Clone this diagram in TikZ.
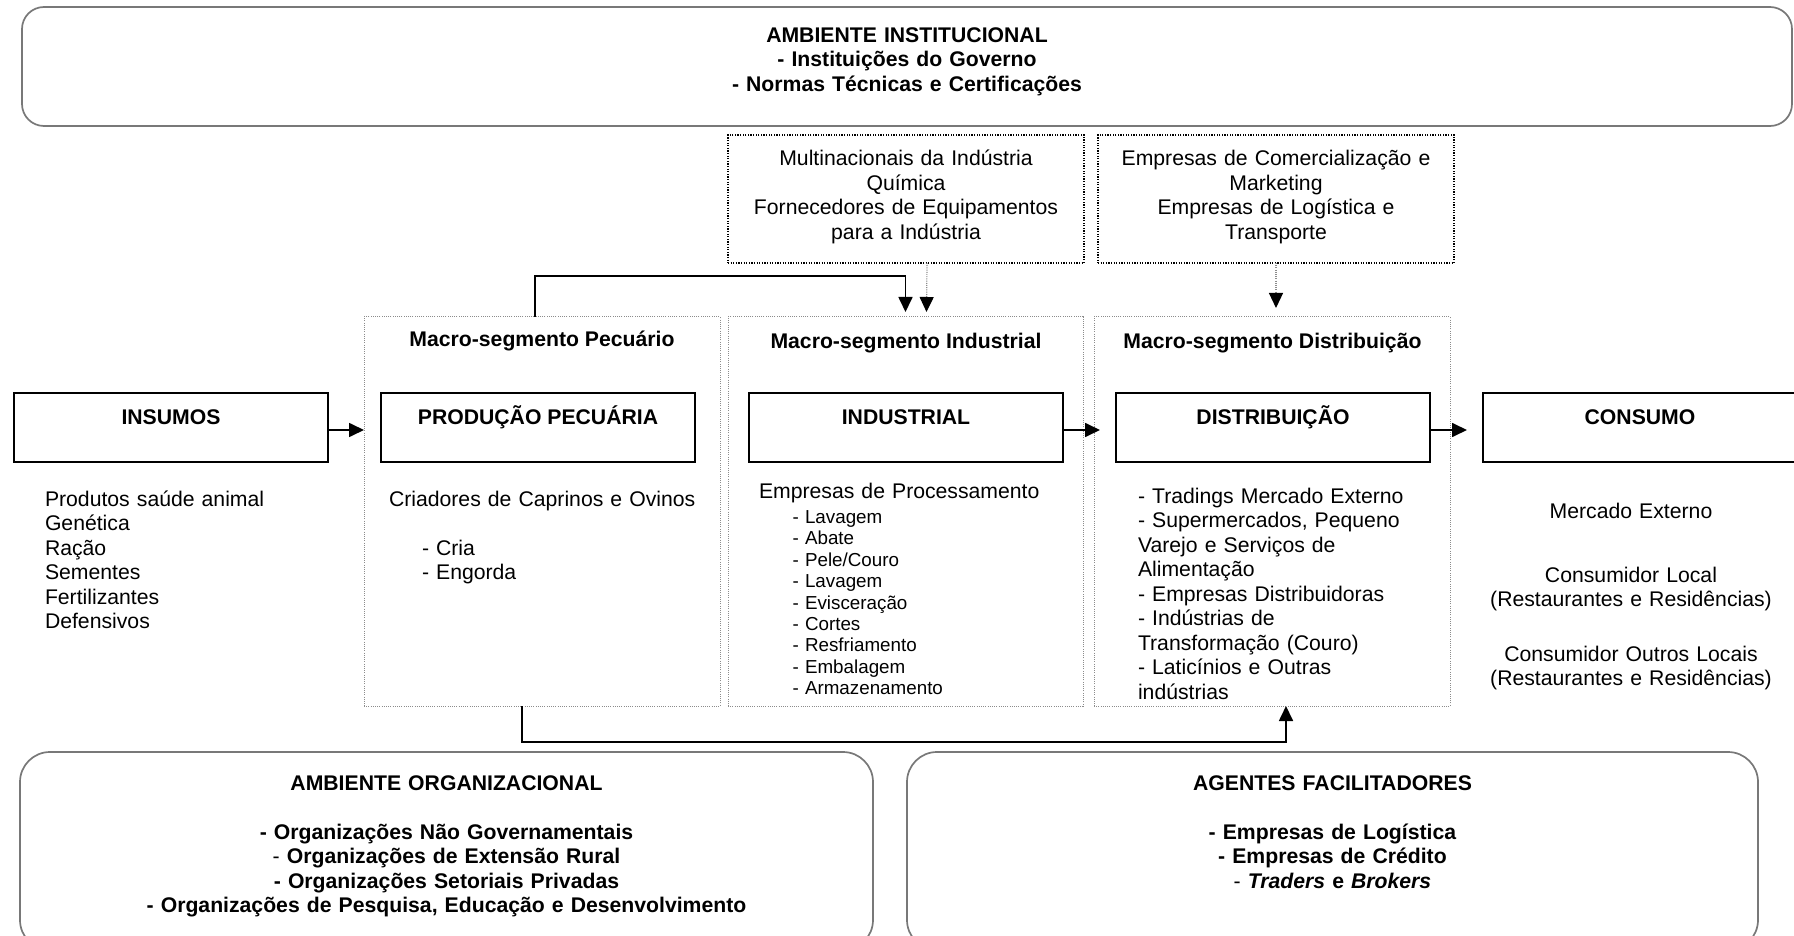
\documentclass[tikz,border=0pt]{standalone}
\usepackage{fontspec}
\setmainfont{Liberation Sans}
\usetikzlibrary{arrows.meta,calc}
\definecolor{envgray}{RGB}{120,120,120}
\definecolor{segdot}{RGB}{140,140,140}
\begin{document}
\begin{tikzpicture}[x=0.5pt,y=-0.5pt,
  every node/.style={inner sep=0pt,outer sep=0pt},
  body/.style={font=\fontsize{10.6}{12.25}\selectfont},
  small/.style={font=\fontsize{9.4}{10.7}\selectfont},
  head/.style={font=\bfseries\fontsize{10.6}{12.25}\selectfont},
  envbox/.style={draw=envgray,line width=0.85pt,anchor=north west},
  supplier/.style={draw=black,line width=0.9pt,dash pattern=on 0.6pt off 0.7pt,
    anchor=north west,minimum width=178pt,minimum height=64pt},
  segment/.style={draw=segdot,line width=0.5pt,dash pattern=on 0.5pt off 0.6pt,
    anchor=north west,minimum height=194.5pt},
  stage/.style={draw=black,line width=0.8pt,anchor=north west,minimum width=157pt,
    text height=15.75pt,text depth=18.75pt,font=\bfseries\fontsize{10.6}{12.25}\selectfont},
  flow/.style={draw=black,line width=0.85pt,-{Triangle[length=7.5pt,width=7pt]}},
  dotflow/.style={draw=segdot,line width=0.6pt,dash pattern=on 0.5pt off 0.6pt,
    -{Triangle[length=7.5pt,width=7pt,color=black]}},
  list/.style={body,anchor=base west,align=left,text width=#1},
  ctext/.style={anchor=base,align=center,text width=#1},
]
\useasboundingbox (0,0) rectangle (1794,936);
\clip (0,0) rectangle (1794,936);

% institutional environment
\node[envbox,rounded corners=11pt,minimum width=885pt,minimum height=59.5pt] (inst) at (22,7) {};
\node[ctext=400pt,head] (insttxt) at (907,42.5)
  {AMBIENTE INSTITUCIONAL\\- Instituições do Governo\\- Normas Técnicas e Certificações};

% supplier boxes
\node[supplier] (chem) at (728,135) {};
\node[supplier] (mkt) at (1098,135) {};
\node[ctext=178pt,body] (chemtxt) at (906,166)
  {Multinacionais da Indústria\\Química\\Fornecedores de Equipamentos\\para a Indústria};
\node[ctext=178pt,body] (mkttxt) at (1276,166)
  {Empresas de Comercialização e\\Marketing\\Empresas de Logística e\\Transporte};

% macro-segments
\node[segment,minimum width=178pt] (pecseg) at (364,317) {};
\node[segment,minimum width=177.5pt] (indseg) at (728,317) {};
\node[segment,minimum width=178pt] (disseg) at (1094,317) {};
\node[head,anchor=base] (pectit) at (542,347) {Macro-segmento Pecuário};
\node[head,anchor=base] (indtit) at (906,349) {Macro-segmento Industrial};
\node[head,anchor=base] (distit) at (1272.5,349) {Macro-segmento Distribuição};

% chain stages
\node[stage] (ins) at (14,393) {INSUMOS};
\node[stage] (pec) at (381,393) {PRODUÇÃO PECUÁRIA};
\node[stage] (ind) at (749,393) {INDUSTRIAL};
\node[stage] (dis) at (1116,393) {DISTRIBUIÇÃO};
\node[stage] (con) at (1483,393) {CONSUMO};

% stage contents
\node[list=150pt] (inslist) at (45,506)
  {Produtos saúde animal\\Genética\\Ração\\Sementes\\Fertilizantes\\Defensivos};
\node[list=170pt] (peclist) at (389,506) {Criadores de Caprinos e Ovinos};
\node[list=100pt] (pecsteps) at (422,555) {- Cria\\- Engorda};
\node[list=170pt] (indlist) at (759,498) {Empresas de Processamento};
\node[list=120pt,small] (indsteps) at (792.5,523.5)
  {- Lavagem\\- Abate\\- Pele/Couro\\- Lavagem\\- Evisceração\\- Cortes\\- Resfriamento\\- Embalagem\\- Armazenamento};
\node[list=165pt] (dislist) at (1138,503)
  {- Tradings Mercado Externo\\- Supermercados, Pequeno\\Varejo e Serviços de\\Alimentação\\- Empresas Distribuidoras\\- Indústrias de\\Transformação (Couro)\\- Laticínios e Outras\\indústrias};
\node[ctext=170pt,body] (conA) at (1631,518) {Mercado Externo};
\node[ctext=170pt,body] (conB) at (1631,582) {Consumidor Local\\(Restaurantes e Residências)};
\node[ctext=170pt,body] (conC) at (1631,661) {Consumidor Outros Locais\\(Restaurantes e Residências)};

% organizational environment and facilitators
\node[envbox,rounded corners=15pt,minimum width=426.5pt,minimum height=99pt] (org) at (20,752) {};
\node[envbox,rounded corners=15pt,minimum width=425.5pt,minimum height=99pt] (fac) at (907,752) {};
\node[ctext=420pt,body] (orgtxt) at (446.5,790)
  {\textbf{AMBIENTE ORGANIZACIONAL}\\[12.25pt]
   \textbf{- Organizações Não Governamentais}\\
   - \textbf{Organizações de Extensão Rural}\\
   \textbf{- Organizações Setoriais Privadas}\\
   \textbf{- Organizações de Pesquisa, Educação e Desenvolvimento}};
\node[ctext=420pt,body] (factxt) at (1332.5,790)
  {\textbf{AGENTES FACILITADORES}\\[12.25pt]
   \textbf{- Empresas de Logística}\\
   \textbf{- Empresas de Crédito}\\
   - \textbf{\textit{Traders} e \textit{Brokers}}};

% flows along the chain
\draw[flow] ($(ins.east)+(0,2.5)$) -- ($(ins.east -| pecseg.west)+(0,2.5)$);
\draw[flow] ($(ind.east)+(0,2.5)$) -- ($(ind.east -| disseg.west)+(6,2.5)$);
\draw[flow] ($(dis.east)+(0,2.5)$) -- ($(con.west)+(-16,2.5)$);

% links above the segments
\draw[flow] ($(pecseg.north)+(-7,0)$) -- ++(0,-41) -| ($(indseg.north)+(0,-5)$);
\draw[dotflow] ($(chem.south)+(21,0)$) -- ($(indseg.north)+(21,-5)$);
\draw[dotflow] (mkt.south) -- ($(mkt.south |- disseg.north)+(0,-9)$);

% link below the segments
\draw[flow] ($(pecseg.south)+(-20,0)$) -- ++(0,36) -| ($(disseg.south)+(14,0)$);
\end{tikzpicture}
\end{document}
